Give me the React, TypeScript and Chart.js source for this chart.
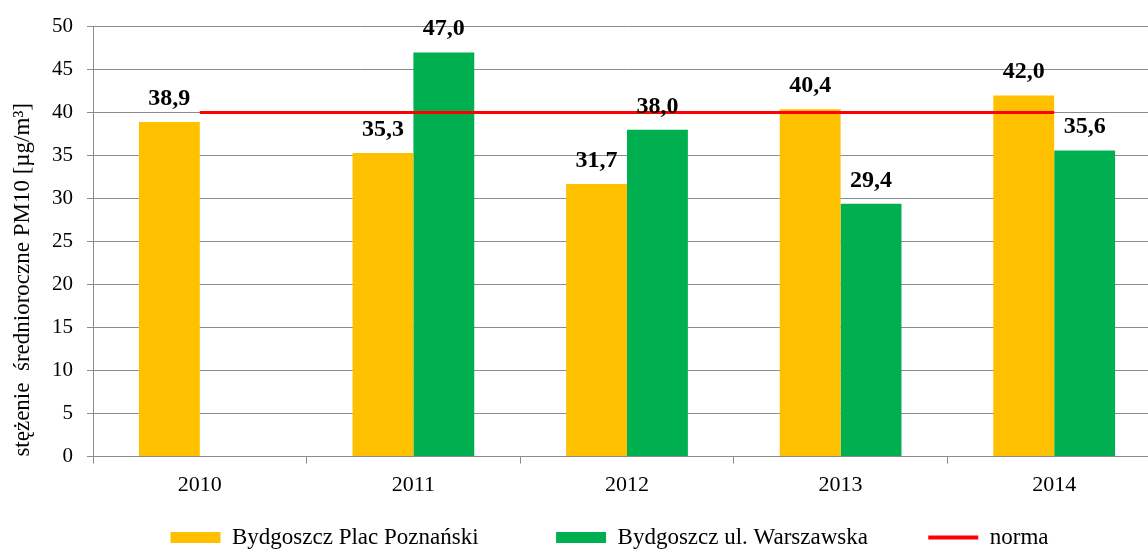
import React, { useEffect, useRef } from 'react';
import { Chart, registerables } from 'chart.js';

Chart.register(...registerables);

const years = ['2010', '2011', '2012', '2013', '2014'];
const placPoznanski = [38.9, 35.3, 31.7, 40.4, 42.0];
const ulWarszawska = [null, 47.0, 38.0, 29.4, 35.6];
const norma = [40, 40, 40, 40, 40];
const seriesNames = ['Bydgoszcz Plac Poznański', 'Bydgoszcz ul. Warszawska', 'norma'];
const yMin = 0;
const yMax = 50;
const yStep = 5;
const yTitle = 'stężenie  średnioroczne PM10 [µg/m³]';

const FONT = "'Liberation Serif', 'Times New Roman', serif";
const ORANGE = '#FFC000';
const GREEN = '#00B050';
const RED = '#FF0000';
const GRID = '#8C8C8C';
const GAP1 = '\u2002\u2002\u2002\u2002\u2002';
const GAP2 = '\u2002\u2002\u2002 ';

const dataLabelPlugin = {
  id: 'dataLabels',
  afterDatasetsDraw(chart: any) {
    const ctx = chart.ctx;
    ctx.save();
    ctx.font = `bold 24px ${FONT}`;
    ctx.fillStyle = '#000';
    ctx.textAlign = 'center';
    ctx.textBaseline = 'alphabetic';
    chart.data.datasets.forEach((ds: any, di: number) => {
      if (ds.type === 'line') return;
      const meta = chart.getDatasetMeta(di);
      meta.data.forEach((el: any, i: number) => {
        const v = ds.data[i];
        if (v === null || v === undefined) return;
        ctx.fillText(Number(v).toFixed(1).replace('.', ','), el.x, el.y - 17);
      });
    });
    ctx.restore();
  },
};

const legendShiftPlugin = {
  id: 'legendShift',
  afterLayout(chart: any) {
    if (chart.legend) {
      chart.legend.left += 29;
      chart.legend.right += 29;
    }
  },
};

export default function App() {
  const canvasRef = useRef<HTMLCanvasElement | null>(null);

  useEffect(() => {
    if (!canvasRef.current) return;
    const chart = new Chart(canvasRef.current, {
      type: 'bar',
      data: {
        labels: years,
        datasets: [
          {
            type: 'line',
            label: seriesNames[2],
            data: norma,
            borderColor: RED,
            backgroundColor: RED,
            borderWidth: 3,
            pointRadius: 0,
            order: 0,
          } as any,
          {
            label: seriesNames[0],
            data: placPoznanski,
            backgroundColor: ORANGE,
            borderWidth: 0,
            order: 1,
          },
          {
            label: seriesNames[1],
            data: ulWarszawska,
            backgroundColor: GREEN,
            borderWidth: 0,
            order: 1,
          },
        ],
      },
      options: {
        responsive: false,
        animation: false,
        devicePixelRatio: 1,
        layout: { padding: { top: 22, right: 9, left: 0, bottom: 0 } },
        datasets: {
          bar: { categoryPercentage: 0.57, barPercentage: 1.0 },
        },
        plugins: {
          tooltip: { enabled: false },
          legend: {
            position: 'bottom',
            labels: {
              font: { family: FONT, size: 23 },
              color: '#000',
              padding: 20,
              usePointStyle: true,
              pointStyleWidth: 50,
              boxHeight: 11,
              generateLabels: () => [
                {
                  text: seriesNames[0] + GAP1,
                  fillStyle: ORANGE,
                  strokeStyle: ORANGE,
                  lineWidth: 0,
                  pointStyle: 'rect',
                  datasetIndex: 1,
                  fontColor: '#000',
                } as any,
                {
                  text: seriesNames[1] + GAP2,
                  fillStyle: GREEN,
                  strokeStyle: GREEN,
                  lineWidth: 0,
                  pointStyle: 'rect',
                  datasetIndex: 2,
                  fontColor: '#000',
                } as any,
                {
                  text: seriesNames[2],
                  fillStyle: RED,
                  strokeStyle: RED,
                  lineWidth: 4,
                  pointStyle: 'line',
                  datasetIndex: 0,
                  fontColor: '#000',
                } as any,
              ],
            },
          },
        },
        scales: {
          x: {
            offset: true,
            grid: {
              display: true,
              drawOnChartArea: false,
              drawTicks: true,
              tickLength: 7,
              color: GRID,
              offset: true,
            },
            border: { display: true, color: GRID, width: 1 },
            ticks: {
              font: { family: FONT, size: 22 },
              color: '#000',
              padding: 8,
            },
          },
          y: {
            min: yMin,
            max: yMax,
            afterFit: (scale: any) => {
              scale.width = 93;
            },
            grid: {
              color: GRID,
              tickLength: 6,
              drawTicks: true,
            },
            border: { display: true, color: GRID, width: 1 },
            ticks: {
              stepSize: yStep,
              font: { family: FONT, size: 21 },
              color: '#000',
              padding: 14,
            },
            title: {
              display: true,
              text: yTitle,
              align: 'start',
              font: { family: FONT, size: 23 },
              color: '#000',
              padding: { top: 9, bottom: 0 },
            },
          },
        },
      },
      plugins: [dataLabelPlugin, legendShiftPlugin],
    });
    return () => chart.destroy();
  }, []);

  return (
    <div
      style={{
        position: 'fixed',
        left: 0,
        top: 0,
        width: 1148,
        height: 549,
        overflow: 'hidden',
        background: '#fff',
      }}
    >
      <canvas ref={canvasRef} width={1170} height={559} style={{ display: 'block' }} />
    </div>
  );
}
